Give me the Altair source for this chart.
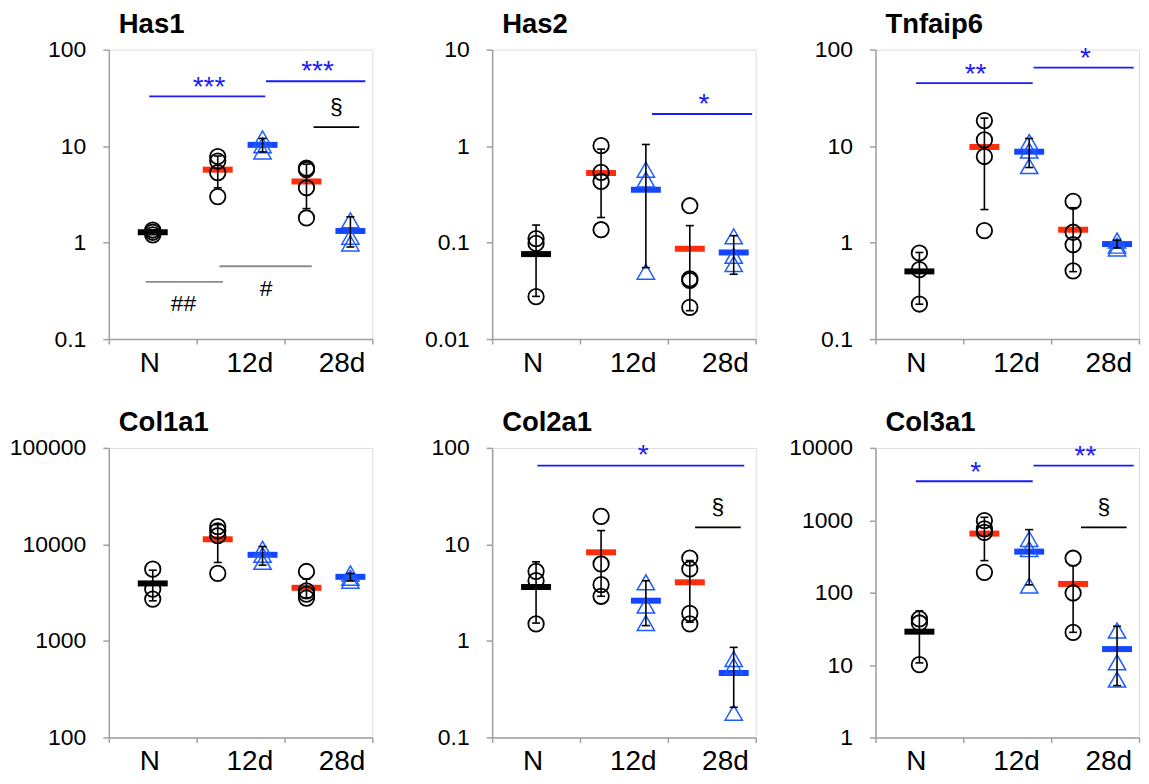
import altair as alt
import pandas as pd

FONT = "Liberation Sans"
RED = "#ff2d0a"
BAR_BLUE = "#1446ff"
TRI_BLUE = "#1f5cff"
SIG_BLUE = "#1a1aff"
GRAY = "#8c8c8c"
AXIS_GRAY = "#a0a0a0"

CATEGORIES = ["N", "12d", "28d"]
GROUPS = ["N", "12d-1", "12d-2", "28d-1", "28d-2"]

# ---------------- data ----------------
# individual points per group (N, 12d red, 12d blue, 28d red, 28d blue)
has1_points = [[1.35, 1.28, 1.2], [7.8, 7.0, 5.3, 3.0], [12.0, 10.2, 8.8], [5.9, 5.7, 3.7, 1.8], [1.7, 1.15, 0.98]]
has1_mean = [1.28, 5.7, 10.3, 4.3, 1.32]
has1_lo = [1.21, 3.7, 8.7, 2.25, 0.9]
has1_hi = [1.36, 7.9, 12.0, 6.5, 1.85]

has2_points = [[0.11, 0.098, 0.0275], [1.01, 0.535, 0.43, 0.136], [0.57, 0.45, 0.05], [0.241, 0.042, 0.0405, 0.0213], [0.116, 0.073, 0.06]]
has2_mean = [0.076, 0.526, 0.353, 0.0863, 0.079]
has2_lo = [0.0277, 0.182, 0.055, 0.0197, 0.047]
has2_hi = [0.152, 0.93, 1.04, 0.150, 0.118]

tnf_points = [[0.78, 0.524, 0.231], [18.4, 11.6, 7.8, 1.33], [11.0, 9.0, 6.2], [2.67, 1.28, 0.95, 0.51], [1.05, 0.93, 0.87]]
tnf_mean = [0.503, 9.8, 8.75, 1.36, 0.966]
tnf_lo = [0.23, 2.2, 6.0, 0.5, 0.88]
tnf_hi = [0.79, 19.5, 12.0, 2.3, 1.06]

col1_points = [[5540, 3440, 2710], [15300, 13800, 12300, 5000], [9000, 7800, 6600], [5240, 3300, 3050, 2780], [5000, 4500, 4200]]
col1_mean = [3940, 11300, 7800, 3550, 4610]
col1_lo = [2600, 6500, 6100, 2800, 4200]
col1_hi = [5400, 16000, 9500, 4370, 5000]

col2_points = [[5.26, 4.21, 1.50], [19.5, 6.27, 3.83, 2.90], [4.05, 2.32, 1.53], [7.22, 5.56, 1.93, 1.50], [0.65, 0.55, 0.18]]
col2_mean = [3.62, 8.28, 2.61, 4.05, 0.465]
col2_lo = [1.53, 2.9, 1.44, 1.56, 0.205]
col2_hi = [6.6, 13.9, 4.2, 6.8, 0.857]

col3_points = [[43.3, 38.1, 10.1], [990, 759, 682, 191], [552, 402, 125], [299, 98.9, 28.3], [29.9, 10.9, 6.3]]
col3_mean = [28.9, 655, 369, 132, 16.6]
col3_lo = [10.7, 277, 128, 28.3, 5.2]
col3_hi = [56, 1100, 743, 236, 34.3]

# significance brackets: (from, to, level, kind)
has1_lines = [(0.46, 1.78, 32.7, "blue"), (1.79, 2.92, 47, "blue"), (2.33, 2.85, 15.7, "black"),
              (0.42, 1.30, 0.392, "gray"), (1.26, 2.31, 0.569, "gray")]
has1_marks = [("***", 1.14, 48.9, "star"), ("***", 2.375, 70.5, "star"), ("§", 2.59, 25.3, "sym"),
              ("##", 0.85, 0.23, "sym"), ("#", 1.79, 0.327, "sym")]
has2_lines = [(1.82, 2.96, 2.15, "blue")]
has2_marks = [("*", 2.41, 3.26, "star")]
tnf_lines = [(0.46, 1.79, 45, "blue"), (1.80, 2.94, 65, "blue")]
tnf_marks = [("**", 1.14, 66.7, "star"), ("*", 2.39, 97.7, "star")]
col1_lines = []
col1_marks = []
col2_lines = [(0.515, 2.87, 65.6, "blue"), (2.31, 2.83, 15.0, "black")]
col2_marks = [("*", 1.72, 99, "star"), ("§", 2.57, 24.3, "sym")]
col3_lines = [(0.46, 1.79, 3460, "blue"), (1.80, 2.94, 5700, "blue"), (2.34, 2.86, 800, "black")]
col3_marks = [("*", 1.14, 5890, "star"), ("**", 2.39, 9690, "star"), ("§", 2.60, 1513, "sym")]

PANELS = [
    ("Has1", (0.1, 100), has1_points, has1_mean, has1_lo, has1_hi, has1_lines, has1_marks),
    ("Has2", (0.01, 10), has2_points, has2_mean, has2_lo, has2_hi, has2_lines, has2_marks),
    ("Tnfaip6", (0.1, 100), tnf_points, tnf_mean, tnf_lo, tnf_hi, tnf_lines, tnf_marks),
    ("Col1a1", (100, 100000), col1_points, col1_mean, col1_lo, col1_hi, col1_lines, col1_marks),
    ("Col2a1", (0.1, 100), col2_points, col2_mean, col2_lo, col2_hi, col2_lines, col2_marks),
    ("Col3a1", (1, 10000), col3_points, col3_mean, col3_lo, col3_hi, col3_lines, col3_marks),
]

# ---------------- styling / layout ----------------
GROUP_X = [0.5, 1.24, 1.75, 2.25, 2.75]
GROUP_BAR = ["black", RED, BAR_BLUE, RED, BAR_BLUE]
GROUP_SHAPE = ["circle", "circle", "triangle-up", "circle", "triangle-up"]
CAT_X = [0.46, 1.6, 2.65]
LINE_COLORS = {"blue": SIG_BLUE, "black": "black", "gray": GRAY}

label_expr = " : ".join(
    f"datum.value == {p} ? '{c}'" for p, c in zip(CAT_X, CATEGORIES)
) + " : ''"

x_axis = alt.Axis(
    values=[0, CAT_X[0], 1, CAT_X[1], 2, CAT_X[2], 3],
    labelExpr=label_expr, title=None, grid=False,
    tickSize=5, tickWidth=1.5, tickColor=AXIS_GRAY,
    tickOpacity={"condition": {"test": "datum.value % 1 != 0", "value": 0}, "value": 1},
    domainColor=AXIS_GRAY, domainWidth=1.5,
    labelFont=FONT, labelFontSize=28, labelColor="black", labelPadding=5,
    labelFlush=False, labelOverlap=False,
)
x_scale = alt.Scale(domain=[0, 3], nice=False, zero=False)


def y_axis(domain):
    lo, hi = domain
    vals = []
    v = lo
    while v <= hi * 1.0001:
        vals.append(v)
        v *= 10
    return alt.Axis(values=vals, format="~g", title=None, grid=False,
                    tickSize=6, tickWidth=1.5, tickColor=AXIS_GRAY,
                    domainColor=AXIS_GRAY, domainWidth=1.5,
                    labelFont=FONT, labelFontSize=23, labelColor="black",
                    labelPadding=17, labelOverlap=False)


def panel(name, domain, points, means, los, his, lines, marks):
    ysc = alt.Scale(type="log", domain=list(domain), nice=False)
    yax = y_axis(domain)
    X = alt.X("x:Q", scale=x_scale, axis=x_axis)

    rows = []
    for g, vals in enumerate(points):
        for v in vals:
            rows.append({"x": GROUP_X[g], "v": v, "shape": GROUP_SHAPE[g]})
    pts = pd.DataFrame(rows)
    stats = pd.DataFrame({"x": GROUP_X, "mean": means, "lo": los, "hi": his,
                          "bar": GROUP_BAR, "group": GROUPS})

    base_stats = alt.Chart(stats)
    means_layer = base_stats.mark_tick(orient="horizontal", size=30, thickness=6, opacity=1).encode(
        x=X, y=alt.Y("mean:Q", scale=ysc, axis=yax),
        color=alt.Color("bar:N", scale=None))
    circ = alt.Chart(pts[pts["shape"] == "circle"]).mark_point(
        shape="circle", filled=False, size=240, strokeWidth=1.8, color="black", opacity=1
    ).encode(x=X, y=alt.Y("v:Q", scale=ysc, axis=yax))
    tri = alt.Chart(pts[pts["shape"] == "triangle-up"]).mark_point(
        shape="triangle-up", filled=False, size=300, strokeWidth=1.5, color=TRI_BLUE, opacity=1
    ).encode(x=X, y=alt.Y("v:Q", scale=ysc, axis=yax))
    err = base_stats.mark_rule(color="black", strokeWidth=1.6).encode(
        x=X, y=alt.Y("lo:Q", scale=ysc, axis=yax), y2="hi:Q")
    cap_lo = base_stats.mark_tick(orient="horizontal", size=8, thickness=1.6, color="black", opacity=1).encode(
        x=X, y=alt.Y("lo:Q", scale=ysc, axis=yax))
    cap_hi = base_stats.mark_tick(orient="horizontal", size=8, thickness=1.6, color="black", opacity=1).encode(
        x=X, y=alt.Y("hi:Q", scale=ysc, axis=yax))

    layers = [means_layer, circ, tri, err, cap_lo, cap_hi]

    if lines:
        ldf = pd.DataFrame([{"x1": a, "x2": b, "y": y, "c": LINE_COLORS[k]} for a, b, y, k in lines])
        layers.append(alt.Chart(ldf).mark_rule(strokeWidth=1.8).encode(
            x=alt.X("x1:Q", scale=x_scale, axis=x_axis), x2="x2:Q",
            y=alt.Y("y:Q", scale=ysc, axis=yax), color=alt.Color("c:N", scale=None)))
    if marks:
        mdf = pd.DataFrame([{"t": t, "x": x, "y": y, "k": k} for t, x, y, k in marks])
        stars = mdf[mdf["k"] == "star"]
        syms = mdf[mdf["k"] == "sym"]
        if len(stars):
            layers.append(alt.Chart(stars).mark_text(
                font=FONT, fontSize=28, color=SIG_BLUE, baseline="middle", align="center", dy=8
            ).encode(x=X, y=alt.Y("y:Q", scale=ysc, axis=yax), text="t:N"))
        if len(syms):
            layers.append(alt.Chart(syms).mark_text(
                font=FONT, fontSize=23, color="black", baseline="middle", align="center"
            ).encode(x=X, y=alt.Y("y:Q", scale=ysc, axis=yax), text="t:N"))

    return alt.layer(*layers).properties(
        width=264, height=290,
        title=alt.TitleParams(name, anchor="start", frame="group", dx=10, dy=36, offset=14,
                              baseline="alphabetic", font=FONT, fontSize=27.5,
                              fontWeight="bold", color="black"),
    )


charts = [panel(*p) for p in PANELS]

chart = alt.concat(
    *charts, columns=3, bounds="flush",
    spacing=alt.RowColnumber(row=109, column=120),
).properties(
    padding={"left": 0, "top": 2, "right": 0, "bottom": 0}
).configure_view(stroke=None).configure(background="white")

chart.save("out.html", embed_options={"renderer": "svg", "actions": False})
